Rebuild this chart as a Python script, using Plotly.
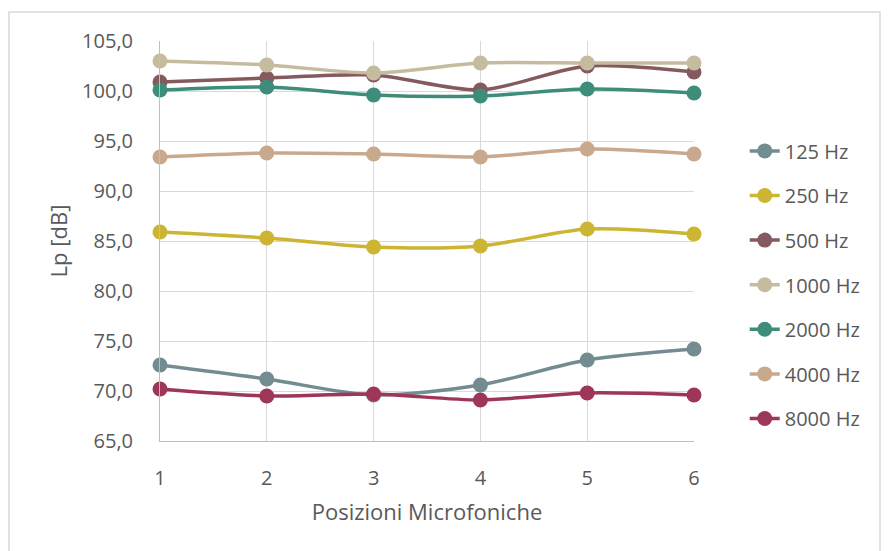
import plotly.graph_objects as go

# Microphone positions along the x axis
positions = [1, 2, 3, 4, 5, 6]

# Sound pressure level per octave band [dB]
lp_125 = [72.6, 71.2, 69.6, 70.6, 73.1, 74.2]
lp_250 = [85.9, 85.3, 84.4, 84.5, 86.2, 85.7]
lp_500 = [100.9, 101.3, 101.6, 100.1, 102.5, 101.9]
lp_1000 = [103.0, 102.6, 101.8, 102.8, 102.8, 102.8]
lp_2000 = [100.1, 100.4, 99.6, 99.5, 100.2, 99.8]
lp_4000 = [93.4, 93.8, 93.7, 93.4, 94.2, 93.7]
lp_8000 = [70.2, 69.5, 69.7, 69.1, 69.8, 69.6]

series_names = ["125 Hz", "250 Hz", "500 Hz", "1000 Hz", "2000 Hz", "4000 Hz", "8000 Hz"]
series_values = [lp_125, lp_250, lp_500, lp_1000, lp_2000, lp_4000, lp_8000]
series_colors = ["#738C92", "#CCB533", "#855A5F", "#C5BC9F", "#3E8C7A", "#C9A98E", "#9E3659"]

y_ticks = [65, 70, 75, 80, 85, 90, 95, 100, 105]

FONT = "Open Sans"
TEXT_COLOR = "#595959"
GRID_COLOR = "#D9D9D9"

fig = go.Figure()
for name, vals, col in zip(series_names, series_values, series_colors):
    fig.add_trace(go.Scatter(
        x=positions, y=vals, name=name, legendgroup=name,
        mode="lines+markers",
        line=dict(color=col, width=3.5, shape="spline", smoothing=0.8),
        marker=dict(color=col, size=15, line=dict(width=0)),
        cliponaxis=False,
    ))

fig.update_layout(
    width=891, height=551,
    margin=dict(l=160, r=197, t=41, b=110),
    paper_bgcolor="white", plot_bgcolor="white",
    separators=",.",
    font=dict(family=FONT, size=20, color=TEXT_COLOR),
    showlegend=True,
    legend=dict(
        x=1.095, y=0.774, xanchor="left", yanchor="top",
        font=dict(family=FONT, size=20, color=TEXT_COLOR),
        tracegroupgap=15.6, itemwidth=30, bgcolor="rgba(0,0,0,0)",
    ),
    xaxis=dict(
        range=[1, 6], tickvals=positions, ticks="",
        showgrid=True, gridcolor=GRID_COLOR, gridwidth=1,
        showline=True, linecolor="#BFBFBF", linewidth=1,
        zeroline=False, ticklabelstandoff=19,
        tickfont=dict(family=FONT, size=20, color=TEXT_COLOR),
        title=dict(text="Posizioni Microfoniche", standoff=14,
                   font=dict(family=FONT, size=22, color=TEXT_COLOR)),
    ),
    yaxis=dict(
        range=[65, 105], tickvals=y_ticks, tickformat=".1f", ticks="",
        showgrid=True, gridcolor=GRID_COLOR, gridwidth=1,
        showline=True, linecolor="#BFBFBF", linewidth=1,
        zeroline=False, ticklabelstandoff=22,
        tickfont=dict(family=FONT, size=20, color=TEXT_COLOR),
        title=dict(text="Lp [dB]", standoff=8,
                   font=dict(family=FONT, size=22, color=TEXT_COLOR)),
    ),
    shapes=[
        # chart-area frame
        dict(type="rect", xref="paper", yref="paper",
             x0=-0.2828, x1=1.3483, y0=-0.31, y1=1.0725,
             line=dict(color="#D9D9D9", width=1.5), fillcolor="rgba(0,0,0,0)",
             layer="below"),
    ],
)

fig.write_html("out.html")
